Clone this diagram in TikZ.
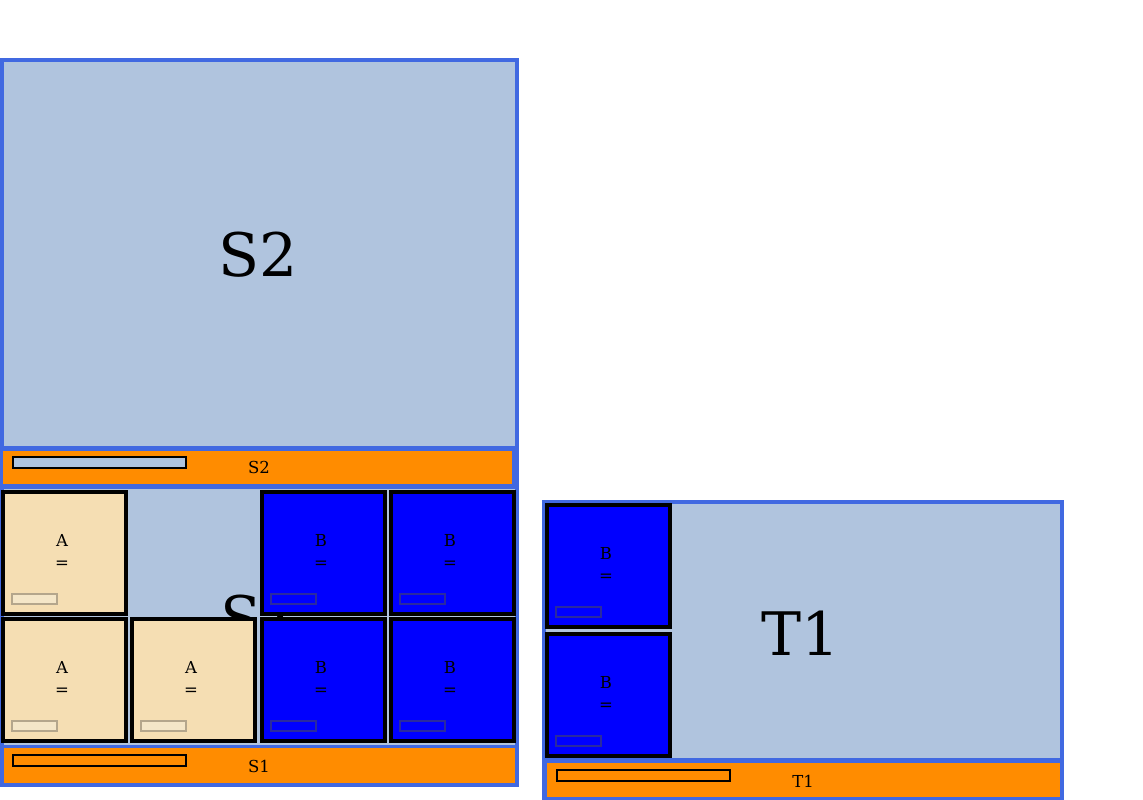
\documentclass[tikz,border=0pt]{standalone}
\usepackage{fontspec}
\setmainfont{DejaVu Serif}
\usepackage{xcolor}

\definecolor{steel}{HTML}{B0C4DE}
\definecolor{royal}{HTML}{4169E1}
\definecolor{barorange}{HTML}{FF8C00}
\definecolor{wheat}{HTML}{F5DEB3}
\definecolor{stubAline}{HTML}{B4A68C}
\definecolor{stubAfill}{HTML}{F4E6C8}
\definecolor{stubBline}{HTML}{2A2AA0}

\begin{document}
\begin{tikzpicture}[x=1pt,y=-1pt,
    tileA/.style={draw=black,line width=4.5pt,fill=wheat},
    tileB/.style={draw=black,line width=4.5pt,fill=blue},
    stubA/.style={draw=stubAline,line width=2pt,fill=stubAfill},
    stubB/.style={draw=stubBline,line width=1.5pt,fill=blue},
    slider/.style={draw=black,line width=2.5pt},
    small/.style={inner sep=0pt,font=\fontsize{16.5}{18}\selectfont},
    big/.style={inner sep=0pt,font=\fontsize{60}{70}\selectfont}]
    \useasboundingbox (0,0) rectangle (1143,800);

    % S2 block
    \fill[royal] (0,58) rectangle (519,488);
    \fill[steel] (4,62) rectangle (515,446);
    \fill[barorange] (3,451) rectangle (512,484);
    \node[big] (bigS2) at (258,255) {S2};
    \draw[slider,fill=steel] (13,457) rectangle (186,468);
    \node[small] (barS2) at (259,467) {S2};

    % S1 block
    \fill[royal] (0,487) rectangle (519,787);
    \fill[steel] (4,489) rectangle (515,745);
    \fill[barorange] (4,748) rectangle (515,783);
    \node[big] (bigS1) at (260,618) {S1};
    \draw[slider,fill=barorange] (13,755) rectangle (186,766);
    \node[small] (barS1) at (259,766) {S1};

    % T1 block
    \fill[royal] (542,500) rectangle (1064,800);
    \fill[steel] (546,504) rectangle (1060,758);
    \fill[barorange] (547,763) rectangle (1060,797);
    \node[big] (bigT1) at (801,633) {T1};
    \draw[slider,fill=barorange] (557,770) rectangle (730,781);
    \node[small] (barT1) at (803,781) {T1};

    % tiles
    \foreach \x/\y/\kind in {1/490/A,260/490/B,389/490/B,1/617/A,130/617/A,260/617/B,389/617/B,545/503/B,545/632/B} {
        \draw[tile\kind] (\x+2,\y+2) rectangle +(123,122);
        \node[small] (name\x-\y) at (\x+61,\y+50) {\kind};
        \node[small] (eq\x-\y) at (\x+61,\y+75) {=};
        \draw[stub\kind] (\x+11,\y+104) rectangle +(45,10);
    }
\end{tikzpicture}
\end{document}
